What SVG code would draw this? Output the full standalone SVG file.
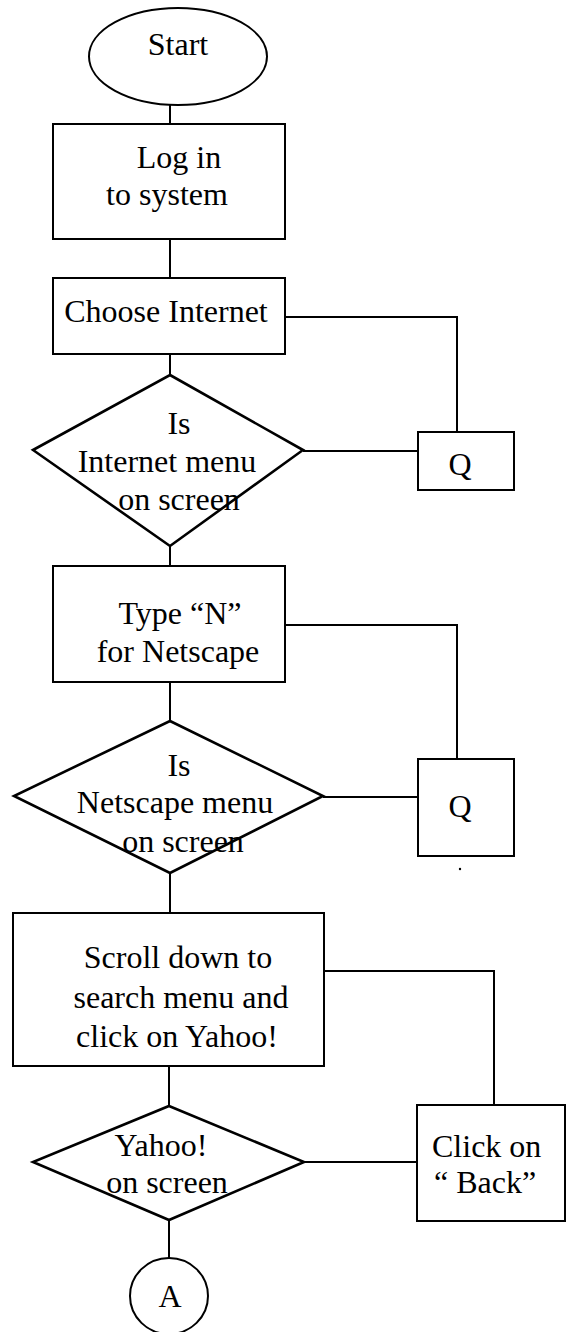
<svg xmlns="http://www.w3.org/2000/svg" width="566" height="1332" viewBox="0 0 566 1332">
<style>
.s{fill:#fff;stroke:#000;stroke-width:2}
.d{fill:none;stroke:#000;stroke-width:2.6}
.c{fill:none;stroke:#000;stroke-width:2}
text{font-family:"Liberation Serif","Times New Roman",serif;font-size:32px;fill:#000;text-anchor:middle}
.l{text-anchor:start}
</style>
<rect width="566" height="1332" fill="#fff"/>
<g id="connectors">
<path class="c" d="M170 105V124M170 239V278M170 354V375M170 546V566M170 682V721M170 873V912M169 1066V1106M169 1220V1258"/>
<path class="c" d="M285 317H457V432M303 451H418"/>
<path class="c" d="M285 625H457V759M323 797H418"/>
<path class="c" d="M324 971H494V1105M304 1162H417"/>
<circle cx="460" cy="869" r="1.2" fill="#000"/>
</g>
<g id="start"><ellipse class="s" cx="178" cy="56.5" rx="89" ry="48.5"/><text x="178" y="55">Start</text></g>
<g id="login"><rect class="s" x="53" y="124" width="232" height="115"/><text x="179" y="168">Log in</text><text x="167" y="205">to system</text></g>
<g id="choose"><rect class="s" x="53" y="278" width="232" height="76"/><text x="166" y="322">Choose Internet</text></g>
<g id="dec1"><path class="d" d="M170 375L303 450L170 546L33 450Z"/><text x="179" y="434">Is</text><text x="167" y="472">Internet menu</text><text x="179" y="510">on screen</text></g>
<g id="q1"><rect class="s" x="418" y="432" width="96" height="58"/><text x="460" y="475">Q</text></g>
<g id="typen"><rect class="s" x="53" y="566" width="232" height="116"/><text x="180" y="624">Type “N”</text><text x="178" y="662">for Netscape</text></g>
<g id="dec2"><path class="d" d="M170 721L323 796L170 873L14 796Z"/><text x="179" y="776">Is</text><text x="175" y="813">Netscape menu</text><text x="183" y="852">on screen</text></g>
<g id="q2"><rect class="s" x="418" y="759" width="96" height="97"/><text x="460" y="817">Q</text></g>
<g id="scroll"><rect class="s" x="13" y="913" width="311" height="153"/><text x="178" y="968">Scroll down to</text><text x="181" y="1008">search menu and</text><text x="177" y="1047">click on Yahoo!</text></g>
<g id="dec3"><path class="d" d="M169 1106L304 1162L169 1220L33 1162Z"/><text x="161" y="1156">Yahoo!</text><text x="167" y="1193">on screen</text></g>
<g id="back"><rect class="s" x="417" y="1105" width="148" height="116"/><text class="l" x="432" y="1157">Click on</text><text class="l" x="434" y="1193">“ Back”</text></g>
<g id="a"><ellipse class="s" cx="169" cy="1296" rx="39" ry="38"/><text x="170" y="1307">A</text></g>
</svg>
